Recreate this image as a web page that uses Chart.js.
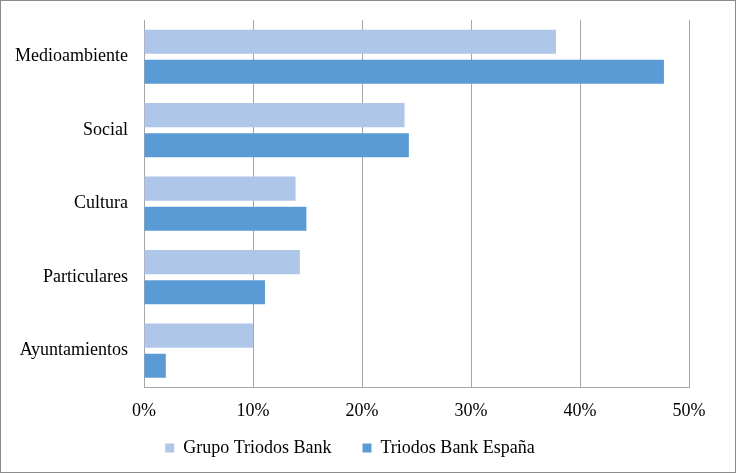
<!DOCTYPE html>
<html>
<head>
<meta charset="utf-8">
<script src="https://cdn.jsdelivr.net/npm/chart.js@4/dist/chart.umd.min.js"></script>
<style>
  html, body { margin: 0; padding: 0; background: #fff; }
  #wrap { position: relative; width: 734px; height: 471px; border: 1px solid #8c8c8c; }
</style>
</head>
<body>
<div id="wrap"><canvas id="chart1"></canvas></div>
<script>
var categories = ["Medioambiente", "Social", "Cultura", "Particulares", "Ayuntamientos"];
var grupoValues = [37.8, 23.9, 13.9, 14.3, 10.0];
var espanaValues = [47.7, 24.3, 14.9, 11.1, 2.0];
var xTicks = [0, 10, 20, 30, 40, 50];

Chart.defaults.font.family = "'Liberation Serif', 'Times New Roman', serif";
Chart.defaults.font.size = 18;
Chart.defaults.color = "#000";

var ctx = document.getElementById("chart1").getContext("2d");
var chart1 = new Chart(ctx, {
    type: 'bar',
    data: {
        labels: categories,
        datasets: [{
            label: "Grupo Triodos Bank",
            backgroundColor: "#aec6e7",
            data: grupoValues
        }, {
            label: "Triodos Bank España",
            backgroundColor: "#5b9bd5",
            data: espanaValues
        }]
    },
    options: {
        indexAxis: 'y',
        responsive: true,
        maintainAspectRatio: false,
        animation: false,
        layout: { padding: { left: 10, right: 46, top: 19, bottom: 5 } },
        datasets: { bar: { categoryPercentage: 0.82, barPercentage: 0.8 } },
        scales: {
            x: {
                min: 0,
                max: 50,
                afterBuildTicks: function(axis) {
                    axis.ticks = xTicks.map(function(v) { return { value: v }; });
                },
                ticks: {
                    padding: 13,
                    callback: function(v) { return v + "%"; }
                },
                grid: { color: "#a6a6a6", drawTicks: false },
                border: { color: "#a6a6a6" }
            },
            y: {
                afterFit: function(axis) {
                    axis.width = 133;
                    axis.paddingTop = 0;
                    axis.paddingBottom = 0;
                },
                ticks: { padding: 16 },
                grid: { display: false, drawTicks: false },
                border: { color: "#a6a6a6" }
            }
        },
        plugins: {
            legend: {
                position: 'bottom',
                labels: {
                    boxWidth: 9,
                    boxHeight: 9,
                    padding: 4,
                    generateLabels: function(chart) {
                        var items = Chart.defaults.plugins.legend.labels.generateLabels(chart);
                        // widen the gap between the two entries
                        items[0].text = items[0].text + "\u2002\u2002\u2002";
                        return items;
                    }
                }
            },
            tooltip: { enabled: false }
        }
    }
});
</script>
</body>
</html>
